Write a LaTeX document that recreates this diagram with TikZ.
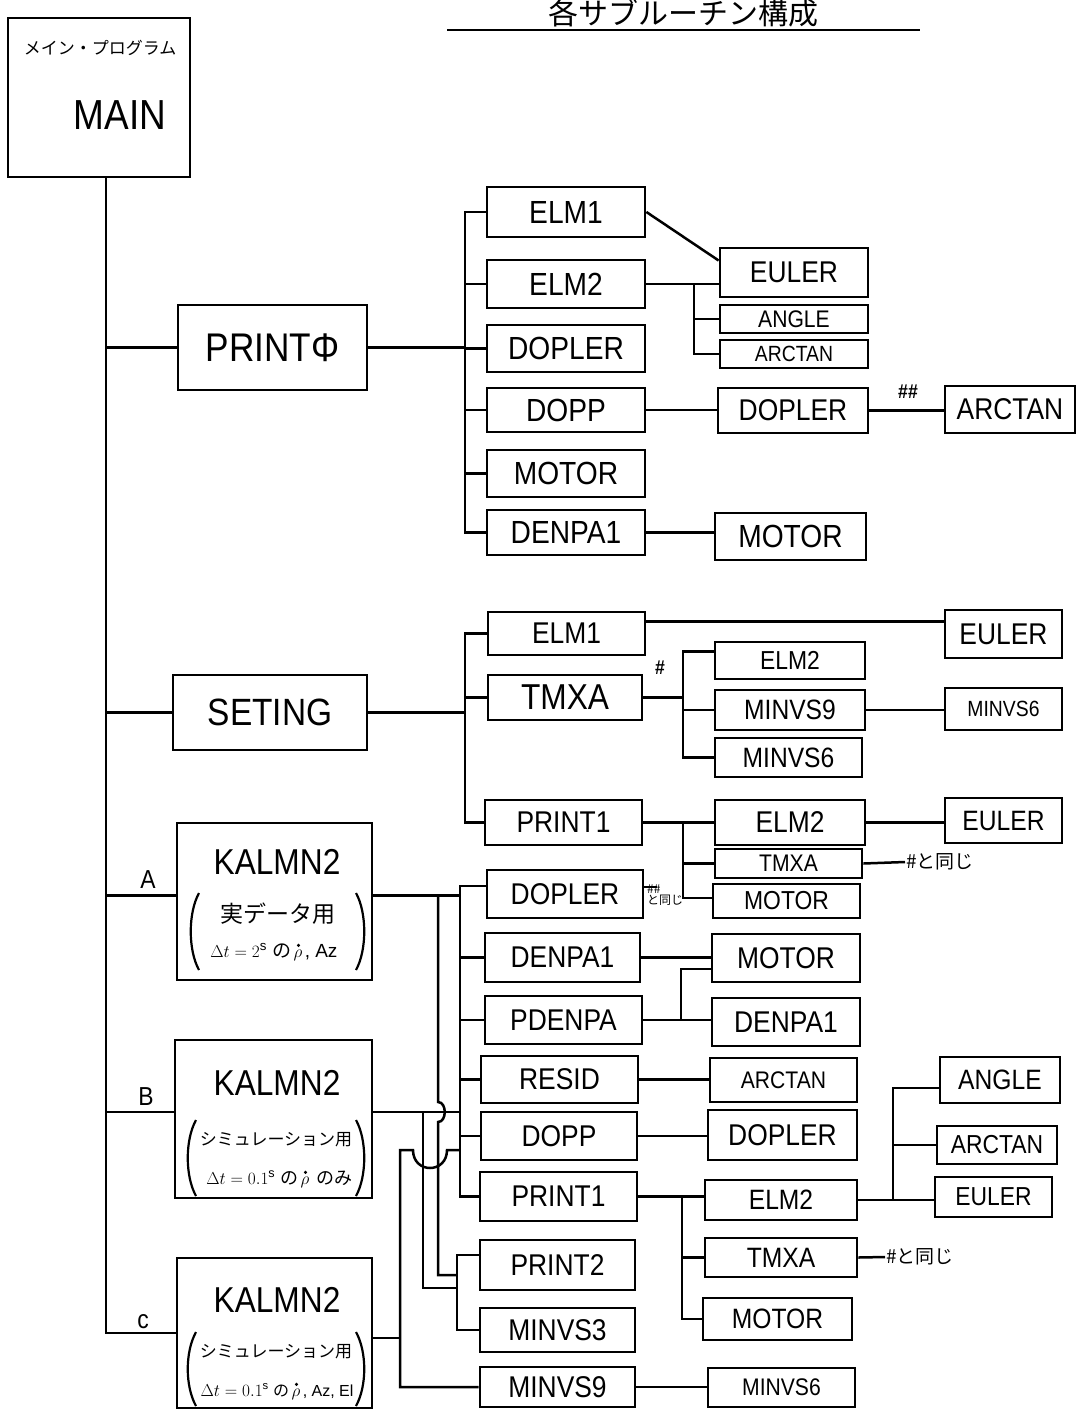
\documentclass[tikz,border=0pt]{standalone}
\usepackage{fontspec}
\setmainfont{Liberation Sans}
\newfontfamily\hand[FakeStretch=0.88]{Liberation Sans}
\newfontfamily\jp{Noto Sans CJK JP}
\usetikzlibrary{calc}
\newcommand\mkbox[7]{\node[bx,#6,minimum width={#4-#2},minimum height={#5-#3}] (#1) at ({(#2+#4)/2},{(#3+#5)/2}) {#7};}
\newcommand\myparens[4]{%
 \draw[line width=2.2pt] (#1+8,#3) .. controls (#1-3,#3+20) and (#1-3,#4-20) .. (#1+8,#4);
 \draw[line width=2.2pt] (#2-8,#3) .. controls (#2+3,#3+20) and (#2+3,#4-20) .. (#2-8,#4);}
% name prefix, rho x, y, size, left text, right text
\newcommand\rholine[6]{%
 \node[sb=#4,inner xsep=2pt] (#1r) at (#2,#3) {$\rho$};
 \node[sb=#4,anchor=base east] (#1l) at (#1r.base west) {#5};
 \node[sb=#4,anchor=base west] (#1q) at (#1r.base east) {#6};
 \fill ($(#1r.north)+(0.5,-4)$) circle (1.7);}
\tikzset{
 bx/.style={draw,line width=2.8pt,inner sep=0pt},
 fs/.style={inner sep=0pt,font=\hand\fontsize{#1}{#1}\selectfont},
 ln/.style={line width=2.5pt},
 mk/.style={inner sep=0pt,font=\hand\bfseries\fontsize{#1}{#1}\selectfont},
 jn/.style={inner sep=1pt,font=\jp\fontsize{#1}{#1}\selectfont},
 sb/.style={inner sep=0pt,font=\fontsize{#1}{#1}\selectfont},
}
\begin{document}
\begin{tikzpicture}[x=1pt,y=-1pt]
\useasboundingbox (0,0) rectangle (1082,1410);
\fill[white] (0,0) rectangle (1082,1410);
% title
\node[jn=30] (title) at (683,13) {各サブルーチン構成};
\draw[line width=1.8pt] (447,30) -- (920,30);
% main
\mkbox{main}{8}{18}{190}{177}{}{}
\node[jn=17] (mainjp) at (100,48) {メイン・プログラム};
\node[fs=42] (maintx) at (120,115) {MAIN};
% level 1
\mkbox{p0}{178}{305}{367}{390}{fs=40}{PRINTΦ}
\mkbox{st}{173}{675}{367}{750}{fs=38}{SETING}
\mkbox{ka}{177}{823}{372}{980}{}{}
\mkbox{kb}{175}{1040}{372}{1198}{}{}
\mkbox{kc}{177}{1258}{372}{1408}{}{}
\node[fs=36] (kat) at (277,862) {KALMN2};
\node[fs=36] (kbt) at (277,1083) {KALMN2};
\node[fs=36] (kct) at (277,1300) {KALMN2};
\node[jn=23] (kas1) at (278,914) {実データ用};
\rholine{ka}{298}{955}{19}{$\Delta t=2^{\mathrm{s}}$\ {\jp の}}{,\ Az}
\myparens{191}{364}{893}{970}
\node[jn=17] (kbs1) at (276,1140) {シミュレーション用};
\rholine{kb}{305}{1182}{18}{$\Delta t=0.1^{\mathrm{s}}$\ {\jp の}}{\ {\jp のみ}}
\myparens{188}{364}{1120}{1196}
\node[jn=17] (kcs1) at (276,1352) {シミュレーション用};
\rholine{kc}{296}{1394}{16}{$\Delta t=0.1^{\mathrm{s}}$\ {\jp の}}{,\ Az,\ El}
\myparens{188}{364}{1332}{1406}
\node[fs=26] (lA) at (148,880) {A};
\node[fs=26] (lB) at (146,1097) {B};
\node[fs=26] (lC) at (143,1322) {c};
% PRINT0 group
\mkbox{e1}{487}{187}{645}{237}{fs=32}{ELM1}
\mkbox{e2}{487}{260}{645}{308}{fs=32}{ELM2}
\mkbox{dp}{487}{325}{645}{372}{fs=32}{DOPLER}
\mkbox{dpp}{487}{388}{645}{432}{fs=32}{DOPP}
\mkbox{mo}{487}{450}{645}{497}{fs=32}{MOTOR}
\mkbox{dn}{487}{510}{645}{555}{fs=32}{DENPA1}
\mkbox{eu}{720}{248}{868}{297}{fs=30}{EULER}
\mkbox{an}{720}{305}{868}{333}{fs=24}{ANGLE}
\mkbox{ar}{720}{340}{868}{368}{fs=22}{ARCTAN}
\mkbox{dp2}{718}{388}{868}{433}{fs=30}{DOPLER}
\mkbox{mo2}{715}{513}{866}{560}{fs=32}{MOTOR}
\mkbox{ar2}{945}{386}{1075}{433}{fs=30}{ARCTAN}
% SETING group
\mkbox{s1}{488}{612}{645}{655}{fs=30}{ELM1}
\mkbox{stm}{488}{675}{642}{720}{fs=36}{TMXA}
\mkbox{sp1}{485}{800}{642}{845}{fs=30}{PRINT1}
\mkbox{seu}{945}{610}{1062}{658}{fs=30}{EULER}
\mkbox{sel2}{715}{642}{865}{679}{fs=26}{ELM2}
\mkbox{sm9}{715}{690}{865}{730}{fs=28}{MINVS9}
\mkbox{sm6}{715}{738}{862}{777}{fs=28}{MINVS6}
\mkbox{sm6b}{945}{688}{1062}{730}{fs=22}{MINVS6}
\mkbox{pel2}{715}{800}{865}{845}{fs=30}{ELM2}
\mkbox{ptm}{715}{849}{862}{878}{fs=24}{TMXA}
\mkbox{pmo}{713}{884}{860}{918}{fs=26}{MOTOR}
\mkbox{peu}{945}{798}{1062}{843}{fs=28}{EULER}
% KALMN2 group
\mkbox{adp}{487}{870}{643}{918}{fs=30}{DOPLER}
\mkbox{adn}{485}{933}{640}{982}{fs=30}{DENPA1}
\mkbox{apd}{485}{996}{642}{1044}{fs=30}{PDENPA}
\mkbox{ars}{481}{1056}{638}{1103}{fs=30}{RESID}
\mkbox{adpp}{481}{1112}{637}{1160}{fs=30}{DOPP}
\mkbox{ap1}{480}{1172}{637}{1221}{fs=30}{PRINT1}
\mkbox{ap2}{480}{1240}{635}{1290}{fs=30}{PRINT2}
\mkbox{am3}{480}{1308}{635}{1352}{fs=30}{MINVS3}
\mkbox{am9}{480}{1367}{635}{1407}{fs=30}{MINVS9}
\mkbox{amo}{712}{934}{860}{982}{fs=30}{MOTOR}
\mkbox{adn2}{712}{998}{860}{1046}{fs=30}{DENPA1}
\mkbox{aar}{710}{1058}{857}{1102}{fs=24}{ARCTAN}
\mkbox{adp2}{708}{1110}{857}{1160}{fs=30}{DOPLER}
\mkbox{bel2}{705}{1180}{857}{1220}{fs=28}{ELM2}
\mkbox{btm}{705}{1238}{857}{1277}{fs=28}{TMXA}
\mkbox{bmo}{703}{1298}{852}{1340}{fs=28}{MOTOR}
\mkbox{can}{940}{1057}{1060}{1103}{fs=28}{ANGLE}
\mkbox{car}{937}{1126}{1057}{1164}{fs=26}{ARCTAN}
\mkbox{ceu}{935}{1177}{1052}{1217}{fs=26}{EULER}
\mkbox{am6}{708}{1368}{855}{1407}{fs=24}{MINVS6}
% notes
\node[mk=20] (m1) at (908,392) {\#\#};
\node[mk=20] (m2) at (660,668) {\#};
\node[jn=19,anchor=west] (n1) at (905,862) {\#と同じ};
\node[jn=19,anchor=west] (n2) at (885,1257) {\#と同じ};
\node[jn=12,anchor=north west,align=left] (n3) at (646,884) {\#\#\\[-1pt]と同じ};
\coordinate (n3a) at (657,887);
% ---------- connectors ----------
\coordinate (tx) at (106,0);
\coordinate (kaE) at ([yshift=6pt]ka.east);
\coordinate (kbE) at ([yshift=7pt]kb.east);
\coordinate (kcE) at ([yshift=-5pt]kc.east);
\draw[ln] (main.south -| tx) |- (kc.west);
\draw[ln] (p0.west -| tx) -- (p0.west);
\draw[ln] (st.west -| tx) -- (st.west);
\draw[ln] ([yshift=6pt]ka.west -| tx) -- ([yshift=6pt]ka.west);
\draw[ln] ([yshift=7pt]kb.west -| tx) -- ([yshift=7pt]kb.west);
% PRINT0
\coordinate (b1) at (465,0);
\draw[ln] (p0.east) -- (p0.east -| b1);
\draw[ln] (e1.west) -| (dn.west -| b1) -- (dn.west);
\foreach \n in {e2,dp,dpp,mo} \draw[ln] (\n.west) -- (\n.west -| b1);
\draw[ln] (e1.east) -- ([yshift=12pt]eu.west);
\draw[ln] (e2.east) -- (e2.east -| eu.west);
\coordinate (b2) at (694,0);
\draw[ln] (e2.east -| b2) |- (ar.west);
\draw[ln] (an.west) -- (an.west -| b2);
\draw[ln] (dpp.east) -- (dpp.east -| dp2.west);
\draw[ln] (dp2.east) -- (dp2.east -| ar2.west);
\draw[ln] (dn.east) -- (dn.east -| mo2.west);
% SETING
\draw[ln] (st.east) -- (st.east -| b1);
\draw[ln] (s1.west) -| (sp1.west -| b1) -- (sp1.west);
\draw[ln] (stm.west) -- (stm.west -| b1);
\draw[ln] ([yshift=12pt]s1.east) -- ([yshift=12pt]s1.east -| seu.west);
\coordinate (b3) at (683,0);
\draw[ln] (stm.east) -- (stm.east -| b3);
\draw[ln] ([yshift=9pt]sel2.west) -| (sm6.west -| b3) -- (sm6.west);
\draw[ln] (sm9.west) -- (sm9.west -| b3);
\draw[ln] (sm9.east) -- (sm9.east -| sm6b.west);
\draw[ln] (sp1.east) -- (sp1.east -| pel2.west);
\draw[ln] (sp1.east -| b3) |- ([yshift=3pt]pmo.west);
\draw[ln] (ptm.west) -- (ptm.west -| b3);
\draw[ln] (pel2.east) -- (pel2.east -| peu.west);
\draw[ln] (ptm.east) -- (n1.west);
% KALMN2
\coordinate (bA) at (460,0);
\coordinate (bB) at (457,0);
\coordinate (v1) at (438,0);
\coordinate (v2) at (423,0);
\coordinate (v3) at (400,0);
\draw[ln] (kaE) -- (kaE -| bA);
\draw[ln] ([yshift=8pt]adp.west) -| (ap1.west -| bA) -- (ap1.west);
\foreach \n in {adn,apd,ars,adpp} \draw[ln] (\n.west) -- (\n.west -| bA);
\draw[ln] (kbE) -- (kbE -| bA);
\draw[ln] (kaE -| v1) -- ($(kbE -| v1)+(0,-10)$) .. controls ($(kbE -| v1)+(9,-10)$) and ($(kbE -| v1)+(9,10)$) .. ($(kbE -| v1)+(0,10)$) -- ($(ap2.west -| v1)+(0,10)$) -- ($(ap2.west -| bB)+(0,10)$);
\draw[ln] (kbE -| v2) -- ($(ap2.west -| v2)+(0,23)$) -- ($(ap2.west -| bB)+(0,23)$);
\draw[ln] ([yshift=10pt]ap2.west) -| (am3.west -| bB) -- (am3.west);
\coordinate (cTop) at ($(adpp.west -| v3)+(0,14)$);
\draw[ln] (kcE) -- (kcE -| v3);
\draw[ln] (am9.west) -| (cTop) -- ($(cTop)+(13,0)$) .. controls ($(cTop)+(13,24)$) and ($(cTop)+(47,24)$) .. ($(cTop)+(47,0)$) -- (cTop -| bA);
\draw[ln] ([yshift=7pt]adp.east) -- (n3a);
\draw[ln] (adn.east) -- (adn.east -| amo.west);
\draw[ln] (apd.east) -- (apd.east -| adn2.west);
\coordinate (b4) at (681,0);
\draw[ln] (apd.east -| b4) |- ([yshift=-11pt]amo.west);
\draw[ln] (ars.east) -- (ars.east -| aar.west);
\draw[ln] (adpp.east) -- (adpp.east -| adp2.west);
\coordinate (b5) at (682,0);
\draw[ln] (ap1.east) -- (ap1.east -| bel2.west);
\draw[ln] (ap1.east -| b5) |- (bmo.west);
\draw[ln] (btm.west) -- (btm.west -| b5);
\draw[ln] (bel2.east) -- (bel2.east -| ceu.west);
\coordinate (b6) at (893,0);
\draw[ln] (bel2.east -| b6) |- ([yshift=-8pt]can.west);
\draw[ln] (car.west) -- (car.west -| b6);
\draw[ln] (btm.east) -- (n2.west);
\draw[ln] (am9.east) -- (am9.east -| am6.west);
\end{tikzpicture}
\end{document}
